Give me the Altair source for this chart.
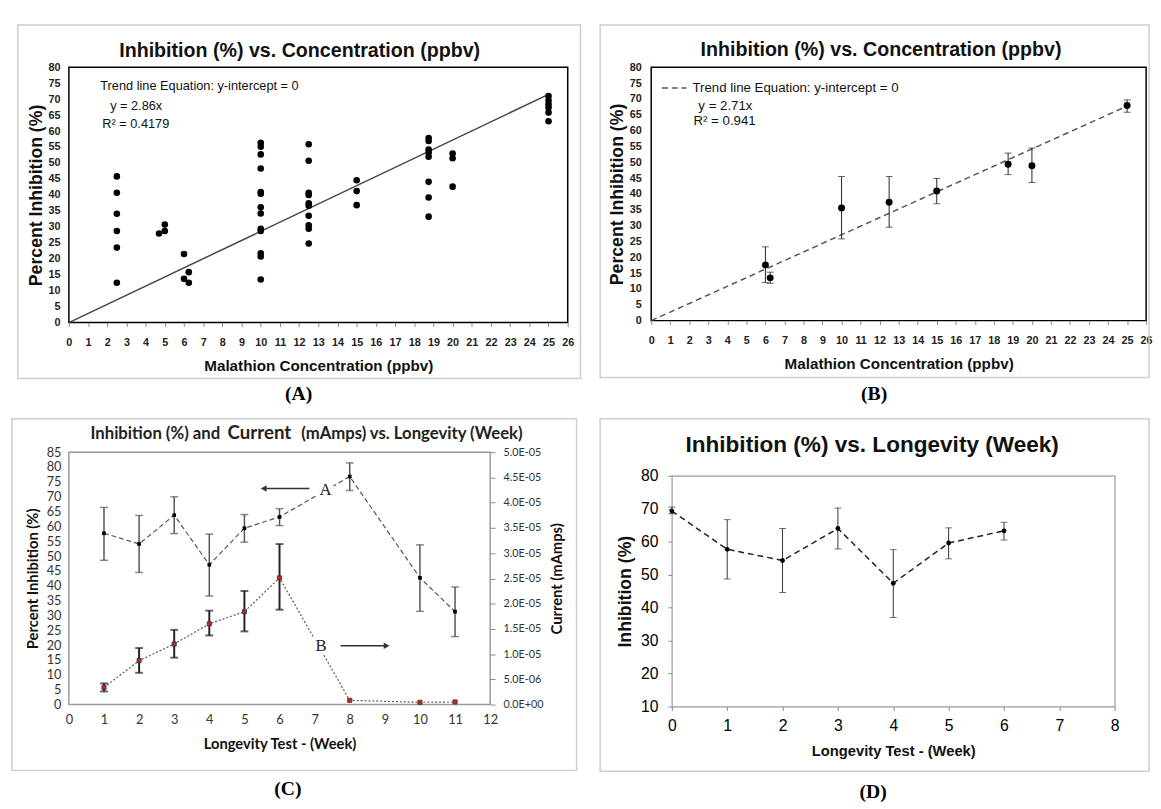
import altair as alt
import pandas as pd

SANS = "Liberation Sans, Arial, sans-serif"
CAL = "Lato, Open Sans, sans-serif"
SERIF = "Liberation Serif, Times New Roman, serif"

# ---------------- Panel A: individual measurements ----------------
a_conc = [2.5, 2.5, 2.5, 2.5, 2.5, 2.5,
          4.7, 5, 5,
          6, 6, 6.25, 6.25,
          10, 10, 10, 10, 10, 10, 10, 10, 10, 10, 10, 10, 10,
          12.5, 12.5, 12.5, 12.5, 12.5, 12.5, 12.5, 12.5, 12.5, 12.5,
          15, 15, 15,
          18.75, 18.75, 18.75, 18.75, 18.75, 18.75, 18.75, 18.75,
          20, 20, 20,
          25, 25, 25, 25, 25, 25]
a_inh = [45.8, 40.7, 34.1, 28.7, 23.5, 12.5,
         27.9, 30.7, 28.7,
         21.5, 13.7, 15.8, 12.5,
         56.3, 55.1, 52.7, 48.3, 40.9, 40.4, 36.1, 34.2, 29.4, 28.7, 21.7, 20.7, 13.5,
         55.9, 50.7, 40.7, 40.0, 37.4, 36.6, 33.5, 30.5, 29.4, 24.8,
         44.6, 41.2, 36.8,
         57.8, 56.9, 54.2, 53.3, 52.0, 44.1, 39.2, 33.2,
         53.0, 51.5, 42.6,
         71.0, 69.6, 68.4, 67.4, 65.8, 63.1]
a_trend_x = [0, 25]
a_trend_y = [0, 71.5]
conc_ticks = list(range(0, 27))
inh80_ticks = list(range(0, 81, 5))

# ---------------- Panel B: means with error bars ----------------
b_conc = [6, 6.25, 10, 12.5, 15, 18.75, 20, 25]
b_mean = [17.6, 13.5, 35.6, 37.4, 40.9, 49.4, 48.9, 67.9]
b_hi = [23.3, 15.3, 45.5, 45.5, 44.9, 52.9, 54.5, 69.7]
b_lo = [12.0, 11.8, 25.8, 29.5, 36.9, 46.1, 43.6, 65.8]
b_trend_x = [0, 25]
b_trend_y = [0, 67.75]

# ---------------- Panel C: inhibition and current vs week ----------------
c_week = [1, 2, 3, 4, 5, 6, 8, 10, 11]
c_inh = [57.7, 54.1, 63.8, 47.1, 59.4, 63.2, 76.8, 42.7, 31.3]
c_inh_hi = [66.4, 63.7, 70.0, 57.4, 64.0, 66.0, 81.4, 53.8, 39.6]
c_inh_lo = [48.6, 44.5, 57.6, 36.6, 54.7, 60.3, 72.1, 31.4, 22.9]
c_cur = [3.4e-6, 8.7e-6, 1.2e-5, 1.6e-5, 1.84e-5, 2.51e-5, 8.4e-7, 4.5e-7, 5.2e-7]
c_cur_err_week = [1, 2, 3, 4, 5, 6]
c_cur_hi = [4.2e-6, 1.12e-5, 1.48e-5, 1.86e-5, 2.25e-5, 3.18e-5]
c_cur_lo = [2.6e-6, 6.3e-6, 9.3e-6, 1.37e-5, 1.45e-5, 1.88e-5]
c_week_ticks = list(range(0, 13))
c_inh_ticks = list(range(0, 86, 5))
c_cur_ticks = [0, 5e-6, 1e-5, 1.5e-5, 2e-5, 2.5e-5, 3e-5, 3.5e-5, 4e-5, 4.5e-5, 5e-5]
c_ann_text = ["A", "B"]
c_ann_x = [7.31, 7.18]
c_ann_y = [72.4, 19.8]
c_arrow_x1 = [6.85, 7.74]
c_arrow_x2 = [5.62, 8.98]
c_arrow_y = [72.8, 19.8]
c_head_x = [5.55, 9.05]
c_head_shape = ["triangle-left", "triangle-right"]

# ---------------- Panel D: inhibition vs week ----------------
d_week = [0, 1, 2, 3, 4, 5, 6]
d_inh = [69.3, 57.7, 54.3, 64.0, 47.4, 59.6, 63.3]
d_hi = [70.5, 66.7, 64.0, 70.2, 57.6, 64.2, 65.9]
d_lo = [68.5, 48.7, 44.6, 57.8, 37.0, 54.8, 60.5]
d_week_ticks = list(range(0, 9))
d_inh_ticks = list(range(10, 81, 10))


def axis(values, title, lab_font, lab_size, lab_weight, lab_pad, tick, title_font,
         title_size, tx, ty, angle=0, orient=None, label_expr=None,
         lab_color="#222", tick_color="#888"):
    kw = dict(values=values, title=title, grid=False, domain=False, tickSize=tick,
              tickColor=tick_color, tickWidth=1, labelFont=lab_font, labelFontSize=lab_size,
              labelFontWeight=lab_weight, labelColor=lab_color, labelPadding=lab_pad,
              labelFlush=False, labelOverlap=False, labelBound=False,
              titleFont=title_font, titleFontSize=title_size, titleFontWeight="bold",
              titleColor="#111", titleX=tx, titleY=ty, titleAngle=angle,
              titleBaseline="middle", titleAlign="center")
    if orient:
        kw["orient"] = orient
    if label_expr:
        kw["labelExpr"] = label_expr
    return alt.Axis(**kw)


def txt(s, x, y, size, font, weight="normal", align="left", color="#111", baseline="middle"):
    return alt.Chart(pd.DataFrame({"t": [s]})).mark_text(
        font=font, fontSize=size, fontWeight=weight, align=align, baseline=baseline,
        color=color).encode(text="t:N", x=alt.value(x), y=alt.value(y))


def frame(x1, x2, y1, y2):
    return alt.Chart(pd.DataFrame({"t": [0]})).mark_rect(
        fillOpacity=0, stroke="#cdcdcd", strokeWidth=1.5).encode(
        x=alt.value(x1), x2=alt.value(x2), y=alt.value(y1), y2=alt.value(y2))


# ================= Panel A =================
wA, hA = 508, 260
axA_x = axis(conc_ticks, "Malathion Concentration (ppbv)", SANS, 11, "bold", 10, 4,
             SANS, 15.5, wA / 2, 44)
axA_y = axis(inh80_ticks, "Percent  Inhibition  (%)", SANS, 11, "bold", 9, 0,
             SANS, 18, -33, hA / 2, 270)
sA_x = alt.Scale(domain=[0, 26], nice=False, zero=False)
sA_y = alt.Scale(domain=[0, 80], nice=False, zero=False)


def xA(f):
    return alt.X(f + ":Q", scale=sA_x, axis=axA_x)


def yA(f):
    return alt.Y(f + ":Q", scale=sA_y, axis=axA_y)


dfA = pd.DataFrame({"conc": a_conc, "inh": a_inh})
dfAt = pd.DataFrame({"conc": a_trend_x, "inh": a_trend_y})
A = alt.layer(
    frame(-52, 521, -43, 317),
    txt("Inhibition (%) vs. Concentration (ppbv)", 235, -16, 20, SANS, "bold", "center"),
    alt.Chart(dfAt).mark_line(color="#444", strokeWidth=1.5).encode(x=xA("conc"), y=yA("inh")),
    alt.Chart(dfA).mark_circle(size=45, color="black", opacity=1).encode(x=xA("conc"), y=yA("inh")),
    txt("Trend line Equation: y-intercept = 0", 32, 19, 13, SANS),
    txt("y = 2.86x", 42, 40, 13, SANS),
    txt("R² = 0.4179", 34, 58, 13, SANS),
    txt("(A)", 234, 333, 20, SERIF, "bold", "center", "#000"),
).properties(width=wA, height=hA, view=alt.ViewBackground(stroke="black", strokeWidth=1.5))

# ================= Panel B =================
wB, hB = 504, 258
axB_x = axis(conc_ticks, "Malathion Concentration (ppbv)", SANS, 11, "bold", 10, 4,
             SANS, 15.5, wB / 2, 44)
axB_y = axis(inh80_ticks, "Percent  Inhibition  (%)", SANS, 11, "bold", 10, 0,
             SANS, 18, -34, hB / 2, 270)
sB_x = alt.Scale(domain=[0, 26], nice=False, zero=False)
sB_y = alt.Scale(domain=[0, 80], nice=False, zero=False)


def xB(f):
    return alt.X(f + ":Q", scale=sB_x, axis=axB_x)


def yB(f):
    return alt.Y(f + ":Q", scale=sB_y, axis=axB_y)


dfB = pd.DataFrame({"conc": b_conc, "inh": b_mean, "hi": b_hi, "lo": b_lo})
dfBt = pd.DataFrame({"conc": b_trend_x, "inh": b_trend_y})
B = alt.layer(
    frame(-52, 507, -43, 316),
    txt("Inhibition (%) vs. Concentration (ppbv)", 234, -17, 20, SANS, "bold", "center"),
    alt.Chart(dfBt).mark_line(color="#555", strokeWidth=1.5, strokeDash=[6, 4]).encode(
        x=xB("conc"), y=yB("inh")),
    alt.Chart(dfB).mark_errorbar(ticks=alt.MarkConfig(size=7), color="#222", thickness=1).encode(
        x=xB("conc"), y=yB("lo"), y2=alt.Y2("hi:Q")),
    alt.Chart(dfB).mark_circle(size=50, color="black", opacity=1).encode(x=xB("conc"), y=yB("inh")),
    alt.Chart(pd.DataFrame({"t": [0]})).mark_rule(color="#555", strokeWidth=1.5,
                                                  strokeDash=[6, 4]).encode(
        x=alt.value(11), x2=alt.value(36), y=alt.value(21)),
    txt("Trend line Equation:  y-intercept = 0", 42, 21, 13.5, SANS),
    txt("y = 2.71x", 48, 40, 13.5, SANS),
    txt("R² = 0.941", 43, 55, 13.5, SANS),
    txt("(B)", 227, 333, 20, SERIF, "bold", "center", "#000"),
).properties(width=wB, height=hB, view=alt.ViewBackground(stroke="black", strokeWidth=1.5))

# ================= Panel C =================
wC, hC = 429, 257
axC_x = axis(c_week_ticks, "Longevity Test - (Week)", CAL, 13, "normal", 9, 0,
             CAL, 15, wC / 2, 40, lab_color="#333")
axC_yl = axis(c_inh_ticks, "Percent  Inhibition  (%)", CAL, 13, "normal", 8, 0,
              CAL, 15, -37, hC / 2, 270, lab_color="#333")
cur_expr = ("datum.value == 0 ? '0.0E+00' : format(datum.value / pow(10, floor(log(datum.value) / LN10 + 1e-6)), '.1f')"
            " + 'E-0' + toString(-floor(log(datum.value) / LN10 + 1e-6))")
axC_yr = axis(c_cur_ticks, "Current (mAmps)", CAL, 11, "normal", 8, 5,
              CAL, 15, 68, hC / 2, 270, orient="right", label_expr=cur_expr, lab_color="#333")
sC_x = alt.Scale(domain=[0, 12], nice=False, zero=False)
sC_yl = alt.Scale(domain=[0, 85], nice=False, zero=False)
sC_yr = alt.Scale(domain=[0, 5e-5], nice=False, zero=False)


def xC(f):
    return alt.X(f + ":Q", scale=sC_x, axis=axC_x)


dfCi = pd.DataFrame({"week": c_week, "inh": c_inh, "hi": c_inh_hi, "lo": c_inh_lo})
dfCc = pd.DataFrame({"week": c_week, "cur": c_cur})
dfCce = pd.DataFrame({"week": c_cur_err_week, "hi": c_cur_hi, "lo": c_cur_lo})
dfCann = pd.DataFrame({"x": c_ann_x, "y": c_ann_y, "t": c_ann_text})
dfCarr = pd.DataFrame({"x": c_arrow_x1, "x2": c_arrow_x2, "y": c_arrow_y})
dfChead = pd.DataFrame({"x": c_head_x, "y": c_arrow_y, "s": c_head_shape})

yCl = lambda f: alt.Y(f + ":Q", scale=sC_yl, axis=axC_yl)
yCr = lambda f: alt.Y(f + ":Q", scale=sC_yr, axis=axC_yr)
yCa = lambda f: alt.Y(f + ":Q", scale=alt.Scale(domain=[0, 85], nice=False, zero=False), axis=None)

C_left = alt.layer(
    alt.Chart(dfCi).mark_line(color="#555", strokeWidth=1.2, strokeDash=[5, 3]).encode(
        x=xC("week"), y=yCl("inh")),
    alt.Chart(dfCi).mark_errorbar(ticks=alt.MarkConfig(size=8), color="#555", thickness=1.5).encode(
        x=xC("week"), y=yCl("lo"), y2=alt.Y2("hi:Q")),
    alt.Chart(dfCi).mark_square(size=14, color="black", opacity=1).encode(x=xC("week"), y=yCl("inh")),
)
C_right = alt.layer(
    alt.Chart(dfCc).mark_line(color="#555", strokeWidth=1.2, strokeDash=[2, 2]).encode(
        x=xC("week"), y=yCr("cur")),
    alt.Chart(dfCce).mark_errorbar(ticks=alt.MarkConfig(size=8), color="#222", thickness=2).encode(
        x=xC("week"), y=yCr("lo"), y2=alt.Y2("hi:Q")),
    alt.Chart(dfCc).mark_square(size=18, color="#cc2222", opacity=1, stroke="#333",
                                strokeWidth=0.8).encode(x=xC("week"), y=yCr("cur")),
)
C_ann = alt.layer(
    alt.Chart(dfCann).mark_square(size=260, color="white", opacity=1).encode(x=xC("x"), y=yCa("y")),
    alt.Chart(dfCann).mark_text(font=SERIF, fontSize=17, color="#222").encode(
        x=xC("x"), y=yCa("y"), text="t:N"),
    alt.Chart(dfCarr).mark_rule(color="#333", strokeWidth=1.5).encode(
        x=xC("x"), x2=alt.X2("x2:Q"), y=yCa("y")),
    alt.Chart(dfChead).mark_point(size=45, filled=True, color="#333", opacity=1).encode(
        x=xC("x"), y=yCa("y"), shape=alt.Shape("s:N", scale=None)),
    frame(-58, 517, -34, 324),
    txt("Inhibition (%) and", 22, -13, 17, CAL, "bold", "left", "#222", "alphabetic"),
    txt("Current", 194, -13, 19, CAL, "bold", "center", "#222", "alphabetic"),
    txt("(mAmps) vs. Longevity (Week)", 462, -13, 17, CAL, "bold", "right", "#222", "alphabetic"),
    txt("(C)", 223, 343, 20, SERIF, "bold", "center", "#000"),
)
C = alt.layer(C_left, C_right, C_ann).resolve_scale(y="independent").properties(
    width=wC, height=hC, view=alt.ViewBackground(stroke="#9a9a9a", strokeWidth=1.5))

# ================= Panel D =================
wD, hD = 451, 235
axD_x = axis(d_week_ticks, "Longevity Test - (Week)", SANS, 16, "normal", 7, 4,
             SANS, 15, wD / 2, 45, lab_color="#000")
axD_y = axis(d_inh_ticks, "Inhibition  (%)", SANS, 16, "normal", 10, 4,
             SANS, 18, -47, hD / 2, 270, lab_color="#000")
sD_x = alt.Scale(domain=[0, 8], nice=False, zero=False)
sD_y = alt.Scale(domain=[10, 80], nice=False, zero=False)
xD = lambda f: alt.X(f + ":Q", scale=sD_x, axis=axD_x)
yD = lambda f: alt.Y(f + ":Q", scale=sD_y, axis=axD_y)
dfD = pd.DataFrame({"week": d_week, "inh": d_inh, "hi": d_hi, "lo": d_lo})
D = alt.layer(
    frame(-73, 486, -58, 301),
    txt("Inhibition (%) vs. Longevity (Week)", 204, -31, 23, SANS, "bold", "center"),
    alt.Chart(dfD).mark_line(color="#222", strokeWidth=1.5, strokeDash=[6, 4]).encode(
        x=xD("week"), y=yD("inh")),
    alt.Chart(dfD).mark_errorbar(ticks=alt.MarkConfig(size=7), color="#333", thickness=1).encode(
        x=xD("week"), y=yD("lo"), y2=alt.Y2("hi:Q")),
    alt.Chart(dfD).mark_circle(size=24, color="black", opacity=1).encode(x=xD("week"), y=yD("inh")),
    txt("(D)", 205, 322, 20, SERIF, "bold", "center", "#000"),
).properties(width=wD, height=hD, view=alt.ViewBackground(stroke="#9a9a9a", strokeWidth=1.2))

chart = alt.concat(A, B, C, D, columns=2, align="none",
                   spacing={"row": 12, "column": 16}).properties(
    padding={"left": 2, "top": 8, "right": 0, "bottom": 0}
).configure(background="white")

chart.save("out.html", embed_options={"renderer": "svg", "actions": False})
